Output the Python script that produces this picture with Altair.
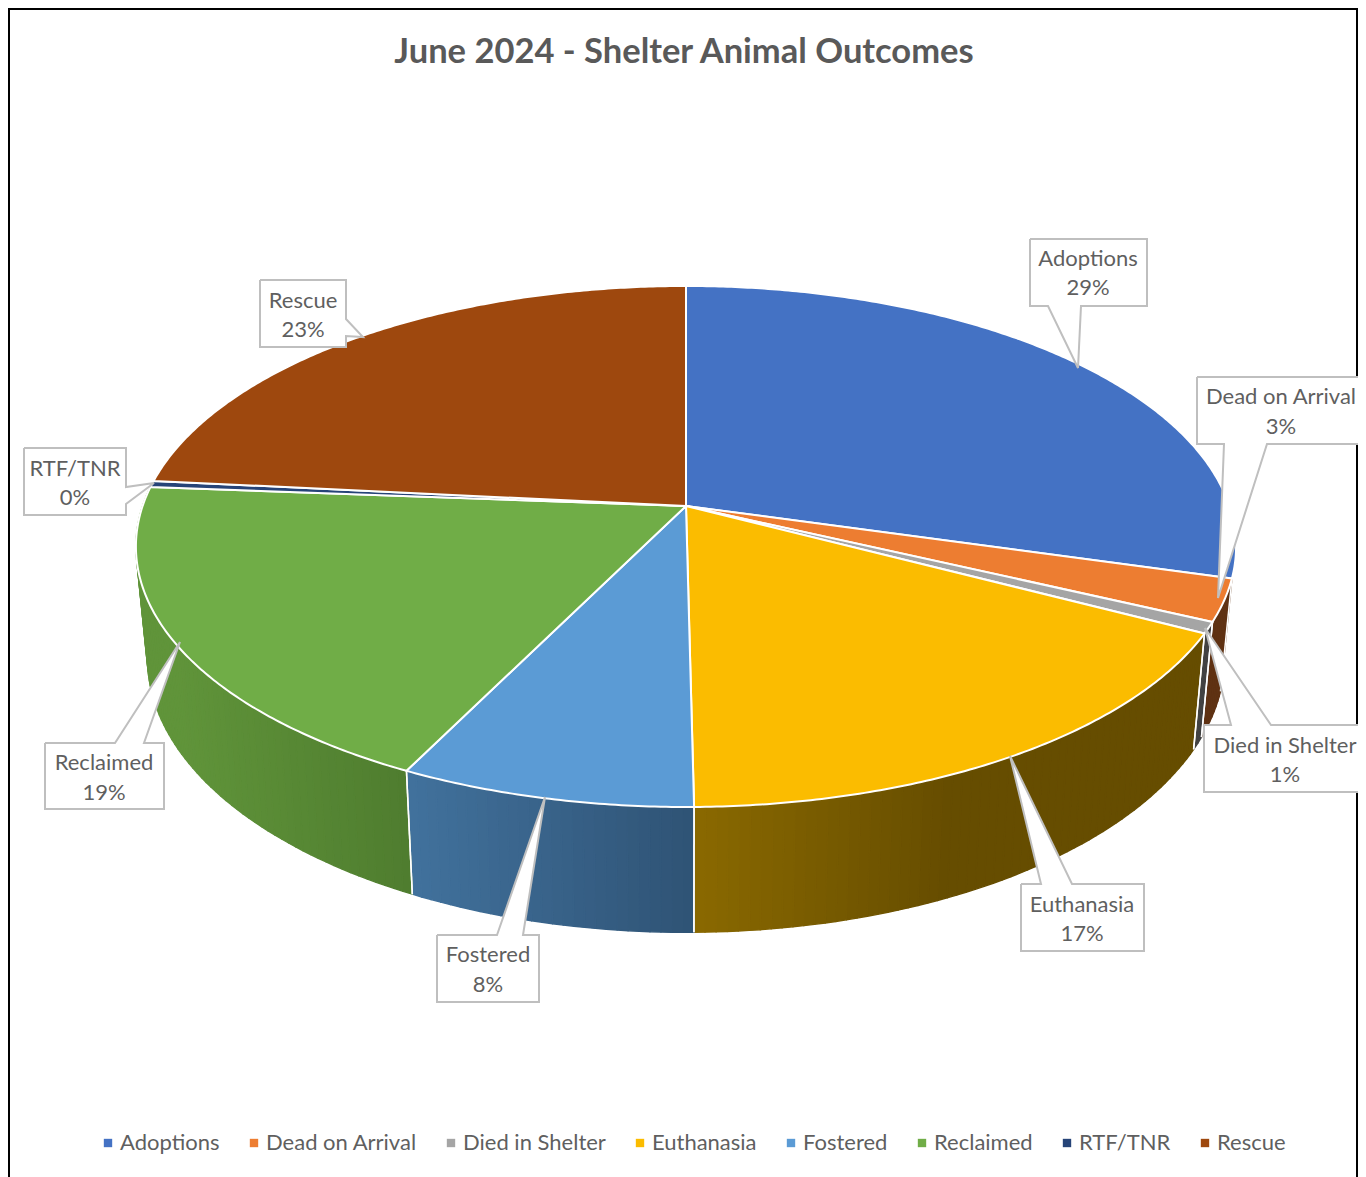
import math
import altair as alt
import pandas as pd

CHART_TITLE = "June 2024 - Shelter Animal Outcomes"
names = ["Adoptions", "Dead on Arrival", "Died in Shelter", "Euthanasia",
         "Fostered", "Reclaimed", "RTF/TNR", "Rescue"]
shares = [29.4, 2.6, 0.7, 17.1, 7.5, 18.9, 0.4, 23.4]
percent_labels = ["29%", "3%", "1%", "17%", "8%", "19%", "0%", "23%"]
colors = ["#4472C4", "#ED7D31", "#A5A5A5", "#FBBC00",
          "#5B9BD5", "#70AD47", "#264478", "#9E480E"]

# side wall shading: (light colour, dark colour, x where light, x where dark)
wall_shades = {
    "Dead on Arrival": ("#5f3213", "#5f3213", 1200, 1230),
    "Died in Shelter": ("#424242", "#424242", 1190, 1210),
    "Euthanasia": ("#8a6900", "#664d00", 694, 950),
    "Fostered": ("#41719c", "#2f5375", 411, 694),
    "Reclaimed": ("#60943a", "#4f7d2f", 175, 405),
}

# callouts: text centre x, first line y, second line y, outline
callouts = {
    "Adoptions": (1088, 259, 288, [(1030, 239), (1147, 239), (1147, 306), (1081, 306), (1078, 368), (1048, 306), (1030, 306)]),
    "Dead on Arrival": (1281, 397, 427, [(1197, 377), (1372, 377), (1372, 444), (1267, 444), (1218, 598), (1224, 444), (1197, 444)]),
    "Died in Shelter": (1285, 746, 775, [(1204, 725), (1231, 725), (1205, 628), (1271, 725), (1372, 725), (1372, 792), (1204, 792)]),
    "Euthanasia": (1082, 905, 934, [(1021, 884), (1041, 884), (1010, 756), (1072, 884), (1144, 884), (1144, 951), (1021, 951)]),
    "Fostered": (488, 955, 985, [(437, 935), (497, 935), (545, 797), (523, 935), (539, 935), (539, 1002), (437, 1002)]),
    "Reclaimed": (104, 763, 793, [(45, 743), (115, 743), (180, 642), (144, 743), (164, 743), (164, 809), (45, 809)]),
    "RTF/TNR": (75, 469, 498, [(24, 448), (126, 448), (126, 487), (154, 483), (126, 504), (126, 515), (24, 515)]),
    "Rescue": (303, 301, 330, [(260, 280), (346, 280), (346, 319), (363, 337), (346, 336), (346, 347), (260, 347)]),
}

CX, CY = 686, 506
K = 0.1554
TOP = dict(a=543.4, b=254.2, cy=CY)
BOT = dict(a=532.0, b=268.0, cy=615)


def project(theta_deg, p):
    t = math.radians(theta_deg)
    u, v = math.sin(t), math.cos(t)
    d = 1 + K * v
    return CX + p["a"] * u / d, p["cy"] - p["b"] * v / d


def mix(c1, c2, t):
    a = [int(c1[i:i + 2], 16) for i in (1, 3, 5)]
    b = [int(c2[i:i + 2], 16) for i in (1, 3, 5)]
    return "#%02x%02x%02x" % tuple(round(x + (y - x) * t) for x, y in zip(a, b))


def steps(t0, t1, n_per_deg=1):
    n = max(2, int((t1 - t0) * n_per_deg) + 1)
    return [t0 + (t1 - t0) * i / (n - 1) for i in range(n)]


edges = [0]
for s in shares:
    edges.append(edges[-1] + s * 3.6 * 100 / sum(shares))

top_rows, quad_rows, edge_rows = [], [], []
for name, t0, t1 in zip(names, edges[:-1], edges[1:]):
    ths = steps(t0, t1, 2)
    pts = [(CX, CY)] + [project(t, TOP) for t in ths] + [(CX, CY)]
    for i, (x, y) in enumerate(pts):
        top_rows.append(dict(slice=name, i=i, x=x, y=y))
    if name in wall_shades:
        light, dark, xl, xd = wall_shades[name]
        ths = steps(t0, t1, 1)
        for j, (a, b) in enumerate(zip(ths[:-1], ths[1:])):
            poly = [project(a, TOP), project(b, TOP), project(b, BOT), project(a, BOT), project(a, TOP)]
            mx = (poly[0][0] + poly[1][0]) / 2
            t = min(1, max(0, (mx - xl) / (xd - xl)))
            c = mix(light, dark, t)
            for i, (x, y) in enumerate(poly):
                quad_rows.append(dict(q=f"{name}{j}", i=i, x=x, y=y, c=c))
        for tag, t in (("a", t0), ("b", t1)):
            for i, (x, y) in enumerate((project(t, TOP), project(t, BOT))):
                edge_rows.append(dict(e=name + tag, i=i, x=x, y=y))

box_rows, text_rows = [], []
for name, pct in zip(names, percent_labels):
    tx, y1, y2, poly = callouts[name]
    closed = poly + [poly[0]]
    for i, (x, y) in enumerate(closed):
        box_rows.append(dict(slice=name, i=i, x=x, y=y))
    text_rows.append(dict(x=tx, y=y1, t=name))
    text_rows.append(dict(x=tx, y=y2, t=pct))

W, H = 1350, 1169
frame_rows = [dict(g="t", i=0, x=8, y=9), dict(g="t", i=1, x=8 + W, y=9),
              dict(g="l", i=0, x=9, y=8), dict(g="l", i=1, x=9, y=8 + H),
              dict(g="r", i=0, x=7 + W, y=8), dict(g="r", i=1, x=7 + W, y=8 + H)]

X = alt.X("x:Q", scale=alt.Scale(domain=[8, 8 + W]), axis=None)
Y = alt.Y("y:Q", scale=alt.Scale(domain=[8 + H, 8]), axis=None)
O = alt.Order("i:Q")

frame = alt.Chart(pd.DataFrame(frame_rows)).mark_line(stroke="black", strokeWidth=2).encode(
    x=X, y=Y, order=O, detail="g:N")

walls = alt.Chart(pd.DataFrame(quad_rows)).mark_line(strokeWidth=1.4, strokeJoin="round").encode(
    x=X, y=Y, order=O, detail="q:N",
    fill=alt.Fill("c:N", scale=None), stroke=alt.Stroke("c:N", scale=None))

wall_lines = alt.Chart(pd.DataFrame(edge_rows)).mark_line(
    stroke="white", strokeWidth=1.5).encode(
    x=X, y=Y, order=O, detail="e:N")

tops = alt.Chart(pd.DataFrame(top_rows)).mark_line(
    stroke="white", strokeWidth=2, strokeJoin="round").encode(
    x=X, y=Y, order=O,
    fill=alt.Fill("slice:N",
                  scale=alt.Scale(domain=names, range=colors),
                  sort=names,
                  legend=alt.Legend(
                      orient="none", legendX=89, legendY=1124, direction="horizontal",
                      columns=8, title=None, symbolType="square", symbolSize=70,
                      symbolStrokeWidth=0, labelFont="Lato", labelFontSize=22,
                      labelColor="#5f5f5f", gridAlign="none", columnPadding=23,
                      labelOffset=1, labelLimit=0)))

boxes = alt.Chart(pd.DataFrame(box_rows)).mark_line(
    fill="white", stroke="#bfbfbf", strokeWidth=2, strokeJoin="miter").encode(
    x=X, y=Y, order=O, detail="slice:N")

texts = alt.Chart(pd.DataFrame(text_rows)).mark_text(
    font="Lato", fontSize=22, color="#5f5f5f", align="center", baseline="middle").encode(
    x=X, y=Y, text="t:N")

chart = alt.layer(frame, walls, wall_lines, tops, boxes, texts).resolve_scale(
    fill="independent", stroke="independent"
).properties(
    width=W, height=H, padding=0, autosize=alt.AutoSizeParams(type="none"),
    background="white",
    title=alt.TitleParams(CHART_TITLE, font="Lato", fontSize=34.5, fontWeight="bold",
                          color="#595959", anchor="middle", offset=-66, dx=1),
).configure_view(stroke=None)

chart.save("out.html", embed_options={"renderer": "svg", "actions": False})
